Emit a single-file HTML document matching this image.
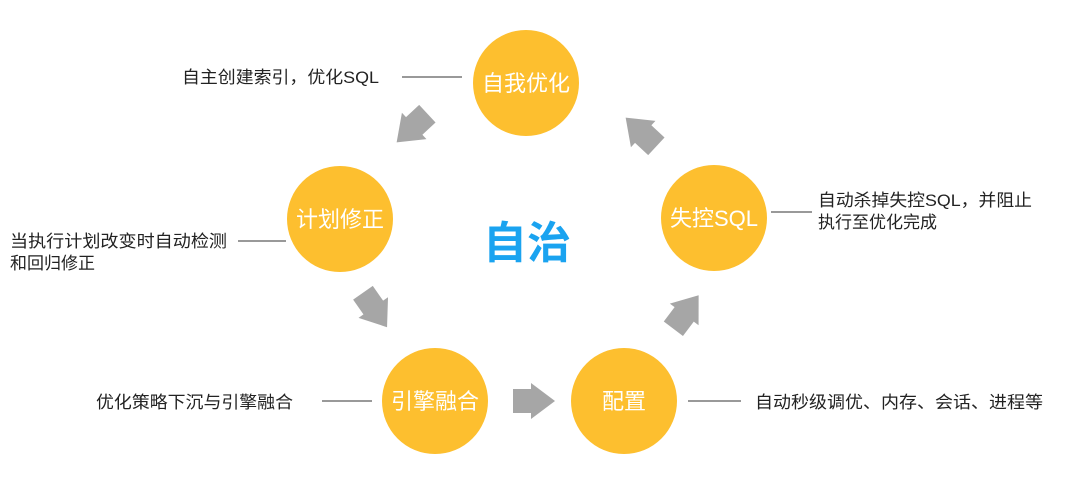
<!DOCTYPE html>
<html><head><meta charset="utf-8"><style>
html,body{margin:0;padding:0;background:#fff;}
svg{display:block;}
text{font-family:"Liberation Sans","Noto Sans CJK SC",sans-serif;}
</style></head><body>
<svg width="1080" height="478" viewBox="0 0 1080 478" xmlns="http://www.w3.org/2000/svg">
<defs>
<polygon id="ar" points="-21,-12 -3,-12 -3,-18 21,0 -3,18 -3,12 -21,12" fill="#a6a6a6"/>
</defs>
<g fill="#fdbf2f">
<circle cx="526" cy="83" r="53"/>
<circle cx="340" cy="219" r="53"/>
<circle cx="714" cy="218" r="53"/>
<circle cx="435" cy="401" r="53"/>
<circle cx="624" cy="401" r="53"/>
</g>
<g fill="#fff" font-size="22" text-anchor="middle">
<text x="526" y="91">自我优化</text>
<text x="340" y="227">计划修正</text>
<text x="714" y="226">失控SQL</text>
<text x="435" y="409">引擎融合</text>
<text x="624" y="409">配置</text>
</g>
<text x="527" y="258" font-size="44" font-weight="bold" fill="#1aa3f0" text-anchor="middle">自治</text>
<use href="#ar" transform="translate(534,401)"/>
<use href="#ar" transform="translate(412,128) rotate(137)"/>
<use href="#ar" transform="translate(375,310) rotate(55)"/>
<use href="#ar" transform="translate(686,312) rotate(-53)"/>
<use href="#ar" transform="translate(641,132) rotate(-137)"/>
<g stroke="#999" stroke-width="2">
<line x1="402" y1="77" x2="462" y2="77"/>
<line x1="238" y1="241" x2="286" y2="241"/>
<line x1="771" y1="212" x2="812" y2="212"/>
<line x1="688" y1="401" x2="741" y2="401"/>
<line x1="322" y1="401" x2="372" y2="401"/>
</g>
<g fill="#222" font-size="17">
<text x="182" y="83" textLength="197" lengthAdjust="spacingAndGlyphs">自主创建索引，优化SQL</text>
<text x="10" y="247" textLength="217" lengthAdjust="spacingAndGlyphs">当执行计划改变时自动检测</text>
<text x="10" y="269">和回归修正</text>
<text x="818" y="206" textLength="214" lengthAdjust="spacingAndGlyphs">自动杀掉失控SQL，并阻止</text>
<text x="818" y="228">执行至优化完成</text>
<text x="755" y="408" textLength="288" lengthAdjust="spacingAndGlyphs">自动秒级调优、内存、会话、进程等</text>
<text x="96" y="408" textLength="197" lengthAdjust="spacingAndGlyphs">优化策略下沉与引擎融合</text>
</g>
</svg>
</body></html>
